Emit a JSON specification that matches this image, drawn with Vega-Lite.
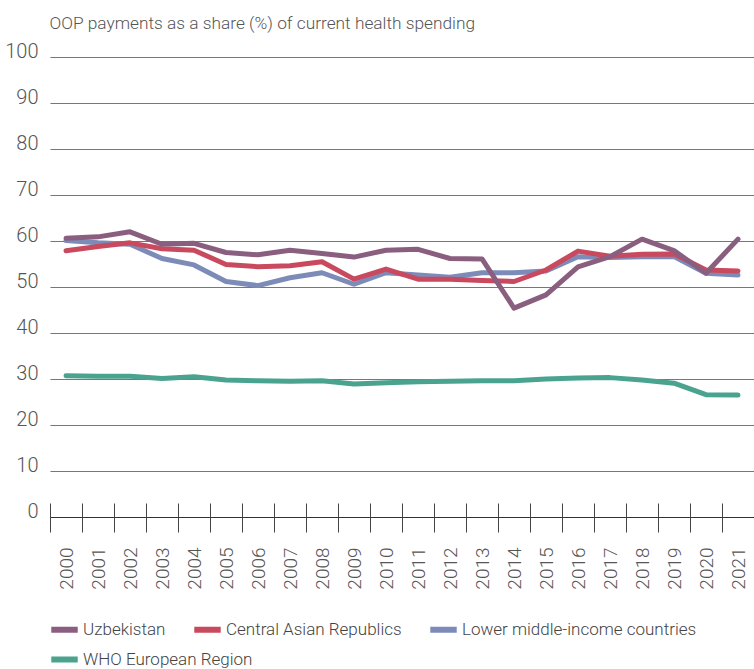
{
  "$schema": "https://vega.github.io/schema/vega-lite/v6.json",
  "width": 704,
  "height": 460,
  "autosize": {"type": "none"},
  "padding": {"left": 50, "top": 57, "right": 0, "bottom": 152},
  "background": "white",
  "config": {
    "font": "Roboto",
    "view": {"stroke": null}
  },
  "datasets": {
    "oop": [
      {"year": "2000", "series": "WHO European Region", "value": 30.7},
      {"year": "2001", "series": "WHO European Region", "value": 30.6},
      {"year": "2002", "series": "WHO European Region", "value": 30.6},
      {"year": "2003", "series": "WHO European Region", "value": 30.1},
      {"year": "2004", "series": "WHO European Region", "value": 30.5},
      {"year": "2005", "series": "WHO European Region", "value": 29.8},
      {"year": "2006", "series": "WHO European Region", "value": 29.6},
      {"year": "2007", "series": "WHO European Region", "value": 29.5},
      {"year": "2008", "series": "WHO European Region", "value": 29.6},
      {"year": "2009", "series": "WHO European Region", "value": 28.9},
      {"year": "2010", "series": "WHO European Region", "value": 29.2},
      {"year": "2011", "series": "WHO European Region", "value": 29.4},
      {"year": "2012", "series": "WHO European Region", "value": 29.5},
      {"year": "2013", "series": "WHO European Region", "value": 29.6},
      {"year": "2014", "series": "WHO European Region", "value": 29.6},
      {"year": "2015", "series": "WHO European Region", "value": 30.0},
      {"year": "2016", "series": "WHO European Region", "value": 30.2},
      {"year": "2017", "series": "WHO European Region", "value": 30.3},
      {"year": "2018", "series": "WHO European Region", "value": 29.8},
      {"year": "2019", "series": "WHO European Region", "value": 29.1},
      {"year": "2020", "series": "WHO European Region", "value": 26.6},
      {"year": "2021", "series": "WHO European Region", "value": 26.5},
      {"year": "2000", "series": "Lower middle-income countries", "value": 60.1},
      {"year": "2001", "series": "Lower middle-income countries", "value": 59.6},
      {"year": "2002", "series": "Lower middle-income countries", "value": 59.3},
      {"year": "2003", "series": "Lower middle-income countries", "value": 56.2},
      {"year": "2004", "series": "Lower middle-income countries", "value": 54.8},
      {"year": "2005", "series": "Lower middle-income countries", "value": 51.2},
      {"year": "2006", "series": "Lower middle-income countries", "value": 50.3},
      {"year": "2007", "series": "Lower middle-income countries", "value": 52.0},
      {"year": "2008", "series": "Lower middle-income countries", "value": 53.1},
      {"year": "2009", "series": "Lower middle-income countries", "value": 50.6},
      {"year": "2010", "series": "Lower middle-income countries", "value": 53.1},
      {"year": "2011", "series": "Lower middle-income countries", "value": 52.6},
      {"year": "2012", "series": "Lower middle-income countries", "value": 52.1},
      {"year": "2013", "series": "Lower middle-income countries", "value": 53.1},
      {"year": "2014", "series": "Lower middle-income countries", "value": 53.1},
      {"year": "2015", "series": "Lower middle-income countries", "value": 53.5},
      {"year": "2016", "series": "Lower middle-income countries", "value": 56.6},
      {"year": "2017", "series": "Lower middle-income countries", "value": 56.4},
      {"year": "2018", "series": "Lower middle-income countries", "value": 56.6},
      {"year": "2019", "series": "Lower middle-income countries", "value": 56.6},
      {"year": "2020", "series": "Lower middle-income countries", "value": 53.0},
      {"year": "2021", "series": "Lower middle-income countries", "value": 52.6},
      {"year": "2000", "series": "Central Asian Republics", "value": 57.9},
      {"year": "2001", "series": "Central Asian Republics", "value": 58.8},
      {"year": "2002", "series": "Central Asian Republics", "value": 59.6},
      {"year": "2003", "series": "Central Asian Republics", "value": 58.3},
      {"year": "2004", "series": "Central Asian Republics", "value": 58.0},
      {"year": "2005", "series": "Central Asian Republics", "value": 54.9},
      {"year": "2006", "series": "Central Asian Republics", "value": 54.4},
      {"year": "2007", "series": "Central Asian Republics", "value": 54.6},
      {"year": "2008", "series": "Central Asian Republics", "value": 55.5},
      {"year": "2009", "series": "Central Asian Republics", "value": 51.7},
      {"year": "2010", "series": "Central Asian Republics", "value": 53.9},
      {"year": "2011", "series": "Central Asian Republics", "value": 51.7},
      {"year": "2012", "series": "Central Asian Republics", "value": 51.7},
      {"year": "2013", "series": "Central Asian Republics", "value": 51.4},
      {"year": "2014", "series": "Central Asian Republics", "value": 51.2},
      {"year": "2015", "series": "Central Asian Republics", "value": 53.7},
      {"year": "2016", "series": "Central Asian Republics", "value": 57.8},
      {"year": "2017", "series": "Central Asian Republics", "value": 56.7},
      {"year": "2018", "series": "Central Asian Republics", "value": 57.1},
      {"year": "2019", "series": "Central Asian Republics", "value": 57.2},
      {"year": "2020", "series": "Central Asian Republics", "value": 53.7},
      {"year": "2021", "series": "Central Asian Republics", "value": 53.5},
      {"year": "2000", "series": "Uzbekistan", "value": 60.6},
      {"year": "2001", "series": "Uzbekistan", "value": 60.9},
      {"year": "2002", "series": "Uzbekistan", "value": 62.0},
      {"year": "2003", "series": "Uzbekistan", "value": 59.3},
      {"year": "2004", "series": "Uzbekistan", "value": 59.5},
      {"year": "2005", "series": "Uzbekistan", "value": 57.5},
      {"year": "2006", "series": "Uzbekistan", "value": 57.0},
      {"year": "2007", "series": "Uzbekistan", "value": 58.0},
      {"year": "2008", "series": "Uzbekistan", "value": 57.3},
      {"year": "2009", "series": "Uzbekistan", "value": 56.5},
      {"year": "2010", "series": "Uzbekistan", "value": 58.0},
      {"year": "2011", "series": "Uzbekistan", "value": 58.2},
      {"year": "2012", "series": "Uzbekistan", "value": 56.2},
      {"year": "2013", "series": "Uzbekistan", "value": 56.1},
      {"year": "2014", "series": "Uzbekistan", "value": 45.4},
      {"year": "2015", "series": "Uzbekistan", "value": 48.3},
      {"year": "2016", "series": "Uzbekistan", "value": 54.4},
      {"year": "2017", "series": "Uzbekistan", "value": 56.6},
      {"year": "2018", "series": "Uzbekistan", "value": 60.4},
      {"year": "2019", "series": "Uzbekistan", "value": 57.9},
      {"year": "2020", "series": "Uzbekistan", "value": 53.0},
      {"year": "2021", "series": "Uzbekistan", "value": 60.4}
    ]
  },
  "data": {"name": "oop"},
  "encoding": {
    "x": {
      "field": "year",
      "type": "ordinal",
      "bandPosition": 0.5,
      "scale": {"type": "band", "paddingInner": 0, "paddingOuter": 0},
      "axis": {
        "title": null,
        "domain": false,
        "grid": false,
        "offset": -14,
        "tickBand": "extent",
        "tickSize": 29,
        "tickColor": "#444",
        "tickWidth": 1,
        "labelAngle": -90,
        "labelAlign": "right",
        "labelBaseline": "middle",
        "labelPadding": 15,
        "labelFontSize": 19,
        "labelFontWeight": 300,
        "labelColor": "#555"
      }
    },
    "y": {
      "field": "value",
      "type": "quantitative",
      "scale": {"domain": [0, 100], "nice": false},
      "axis": {
        "values": [0, 10, 20, 30, 40, 50, 60, 70, 80, 90, 100],
        "domain": false,
        "ticks": false,
        "grid": true,
        "gridColor": {"condition": {"test": "datum.value === 0", "value": "#333"}, "value": "#777"},
        "gridWidth": 1,
        "labelPadding": 12,
        "labelBaseline": "alphabetic",
        "labelFontSize": 20,
        "labelFontWeight": 300,
        "labelColor": "#555",
        "title": "OOP payments as a share (%) of current health spending",
        "titleAngle": 0,
        "titleAlign": "left",
        "titleBaseline": "alphabetic",
        "titleX": -1,
        "titleY": -29,
        "titleFontSize": 17.3,
        "titleFontWeight": 300,
        "titleColor": "#555"
      }
    }
  },
  "layer": [
    {
      "transform": [{"filter": "datum.series === 'WHO European Region'"}],
      "mark": {"type": "line", "strokeWidth": 5, "strokeCap": "round", "strokeJoin": "round"},
      "encoding": {
        "color": {
          "field": "series",
          "type": "nominal",
          "scale": {"domain": ["WHO European Region"], "range": ["#4AA38E"]},
          "legend": {
            "title": null,
            "orient": "none",
            "legendX": -2,
            "legendY": 586,
            "direction": "horizontal",
            "symbolType": "stroke",
            "symbolStrokeWidth": 6,
            "symbolSize": 700,
            "labelFontSize": 17,
            "labelFontWeight": 300,
            "labelColor": "#444",
            "labelOffset": 2,
            "labelLimit": 400
          }
        }
      }
    },
    {
      "transform": [{"filter": "datum.series !== 'WHO European Region'"}],
      "mark": {"type": "line", "strokeWidth": 5, "strokeCap": "round", "strokeJoin": "round"},
      "encoding": {
        "color": {
          "field": "series",
          "type": "nominal",
          "scale": {
            "domain": ["Uzbekistan", "Central Asian Republics", "Lower middle-income countries"],
            "range": ["#8A5E7E", "#C94A5E", "#7D8BB8"]
          },
          "legend": {
            "title": null,
            "orient": "none",
            "legendX": -2,
            "legendY": 556,
            "direction": "horizontal",
            "columnPadding": 16,
            "symbolType": "stroke",
            "symbolStrokeWidth": 6,
            "symbolSize": 700,
            "labelFontSize": 17,
            "labelFontWeight": 300,
            "labelColor": "#444",
            "labelOffset": 2,
            "labelLimit": 400
          }
        },
        "order": {"field": "series", "sort": "descending"}
      }
    }
  ],
  "resolve": {"scale": {"color": "independent"}}
}
